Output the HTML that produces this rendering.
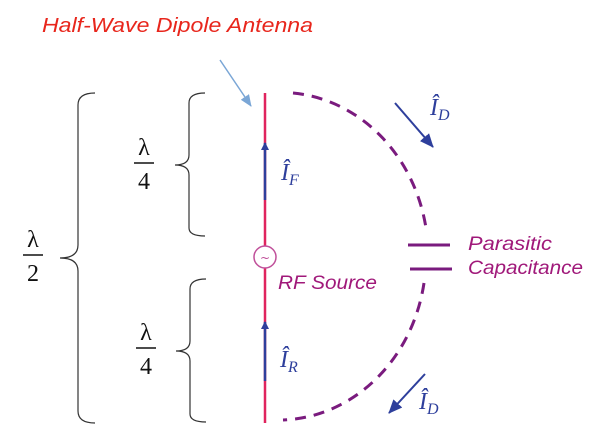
<!DOCTYPE html>
<html><head><style>body{margin:0;background:#fff}svg{display:block}</style></head><body>
<svg width="600" height="440" viewBox="0 0 600 440" xmlns="http://www.w3.org/2000/svg">
<defs>
<marker id="ab" markerWidth="8" markerHeight="8" refX="7" refY="4" orient="auto" markerUnits="userSpaceOnUse"><path d="M0,0 L8,4 L0,8z" fill="#2e3f9c"/></marker>
<marker id="al" markerWidth="12" markerHeight="10" refX="11" refY="5" orient="auto" markerUnits="userSpaceOnUse"><path d="M0,0 L12,5 L0,10z" fill="#7aa6d6"/></marker>
<marker id="ad" markerWidth="14" markerHeight="12" refX="13" refY="6" orient="auto" markerUnits="userSpaceOnUse"><path d="M0,0 L14,6 L0,12z" fill="#2e3f9c"/></marker>
</defs>
<text x="42" y="32" font-family="Liberation Sans, sans-serif" font-style="italic" font-size="20" fill="#e8261c" textLength="271" lengthAdjust="spacingAndGlyphs">Half-Wave Dipole Antenna</text>
<line x1="220" y1="60" x2="251" y2="106" stroke="#7aa6d6" stroke-width="1.5" marker-end="url(#al)"/>
<g fill="none" stroke="#333" stroke-width="1.2">
<path d="M95,93 Q78,93 78,105 L78,245 Q78,258 60,258 Q78,258 78,271 L78,411 Q78,423 95,423"/>
<path d="M205,93 Q189,93 189,103 L189,155 Q189,165 175,165 Q189,165 189,175 L189,228 Q189,236 205,236"/>
<path d="M206,279 Q190,279 190,289 L190,341 Q190,351 176,351 Q190,351 190,361 L190,414 Q190,422 206,422"/>
</g>
<g font-family="Liberation Serif, serif" font-size="24" fill="#111" text-anchor="middle">
<text x="33" y="247">λ</text><line x1="23" y1="255" x2="43" y2="255" stroke="#111" stroke-width="1.5"/><text x="33" y="281">2</text>
<text x="144" y="155">λ</text><line x1="134" y1="163" x2="154" y2="163" stroke="#111" stroke-width="1.5"/><text x="144" y="189">4</text>
<text x="146" y="340">λ</text><line x1="136" y1="348" x2="156" y2="348" stroke="#111" stroke-width="1.5"/><text x="146" y="374">4</text>
</g>
<line x1="265" y1="93" x2="265" y2="246" stroke="#e0245e" stroke-width="2.5"/>
<line x1="265" y1="268" x2="265" y2="423" stroke="#e0245e" stroke-width="2.5"/>
<line x1="265" y1="200" x2="265" y2="143" stroke="#2e3f9c" stroke-width="2.5" marker-end="url(#ab)"/>
<line x1="265" y1="381" x2="265" y2="322" stroke="#2e3f9c" stroke-width="2.5" marker-end="url(#ab)"/>
<circle cx="265" cy="257" r="11" fill="#fff" stroke="#c0509a" stroke-width="1.5"/>
<text x="265" y="262" font-family="DejaVu Sans, sans-serif" font-size="12" fill="#c0509a" text-anchor="middle">~</text>
<g fill="none" stroke="#7a1b7e" stroke-width="3" stroke-dasharray="11,8">
<path d="M293,93 A148,164 0 0 1 426,228"/>
<path d="M424,283 A148,164 0 0 1 283,420"/>
</g>
<line x1="408" y1="245" x2="450" y2="245" stroke="#7a1b7e" stroke-width="3"/>
<line x1="410" y1="269" x2="452" y2="269" stroke="#7a1b7e" stroke-width="3"/>
<line x1="395" y1="103" x2="433" y2="147" stroke="#2e3f9c" stroke-width="2" marker-end="url(#ad)"/>
<line x1="425" y1="374" x2="389" y2="413" stroke="#2e3f9c" stroke-width="2" marker-end="url(#ad)"/>
<g font-family="Liberation Sans, sans-serif" font-style="italic" font-size="19" fill="#a0197a">
<text x="278" y="289" textLength="99" lengthAdjust="spacingAndGlyphs">RF Source</text>
<text x="468" y="250" textLength="84" lengthAdjust="spacingAndGlyphs">Parasitic</text>
<text x="468" y="274" textLength="115" lengthAdjust="spacingAndGlyphs">Capacitance</text>
</g>
<g font-family="Liberation Serif, serif" font-style="italic" fill="#2e3f9c">
<text x="281" y="180" font-size="24">Î<tspan font-size="16" dy="5">F</tspan></text>
<text x="280" y="367" font-size="24">Î<tspan font-size="16" dy="5">R</tspan></text>
<text x="430" y="115" font-size="24">Î<tspan font-size="16" dy="5">D</tspan></text>
<text x="419" y="409" font-size="24">Î<tspan font-size="16" dy="5">D</tspan></text>
</g>
</svg>
</body></html>
